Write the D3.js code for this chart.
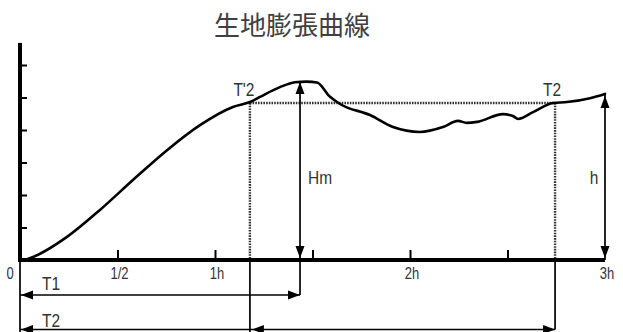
<!DOCTYPE html>
<html><head><meta charset="utf-8">
<script src="https://cdn.jsdelivr.net/npm/d3@7"></script>
<style>
html,body{margin:0;padding:0;background:#fff;}
svg{display:block;}
</style></head>
<body><svg id="c" width="623" height="332"></svg>
<script>
const title = "生地膨張曲線";
// curve: time (hours) vs expansion height (units of left ticks)
const curveHours  = [0.026,0.067,0.241,0.410,0.579,0.754,0.923,1.092,1.179,1.231,1.333,1.410,1.470,1.523,1.590,1.641,1.795,1.913,2.051,2.169,2.246,2.292,2.344,2.477,2.528,2.554,2.631,2.733,2.805,2.923,3.0];
const curveValues = [0.00, 0.09, 0.71, 1.54, 2.46, 3.38, 4.15, 4.71, 4.86, 5.02, 5.32, 5.47, 5.49, 5.46, 5.02, 4.80, 4.46, 4.09, 3.94, 4.09, 4.28, 4.22, 4.25, 4.49, 4.43, 4.34, 4.55, 4.83, 4.86, 4.98, 5.11];
const xTickValues = [0.5,1,1.5,2,2.5];
const xLabelValues = [0,0.5,1,2,3];
const xLabelTexts = ["0","1/2","1h","2h","3h"];
const yTickValues = [1,2,3,4,5,6];
// key points
const tPrime2 = {hour:1.179, value:4.83, label:"T'2"};
const peak = {hour:1.436, value:5.48, label:"Hm"};
const t2 = {hour:2.744, value:4.83, label:"T2"};
const endPt = {hour:3.0, value:5.11, label:"h"};

const svg = d3.select("#c");
const x = d3.scaleLinear().domain([0,3]).range([20,605]);
const y = d3.scaleLinear().domain([0,6]).range([260,65]);
const yTop = 6.68;
const bottomY = 332;
const t1Y = 295, t2Y = 329.5;
const ink = "#000", txt = "#333";
const lab = "'Liberation Sans', Arial, sans-serif";

// title
svg.append("text").attr("x",292).attr("y",35).attr("text-anchor","middle")
  .attr("font-family","'Noto Sans CJK JP','Noto Sans CJK SC',sans-serif")
  .attr("font-size",26).attr("font-weight",400).attr("fill","#404040").text(title);

// axes ticks via d3 axes
const gx = svg.append("g").attr("transform",`translate(0,${y(0)})`)
  .call(d3.axisBottom(x).tickValues(xTickValues).tickSizeInner(-10).tickSizeOuter(0).tickFormat(""));
gx.select(".domain").remove();
gx.selectAll(".tick line").attr("stroke",ink).attr("stroke-width",2);
const gy = svg.append("g").attr("transform",`translate(${x(0)},0)`)
  .call(d3.axisLeft(y).tickValues(yTickValues).tickSizeInner(-7).tickSizeOuter(0).tickFormat(""));
gy.select(".domain").remove();
gy.selectAll(".tick line").attr("stroke",ink).attr("stroke-width",2);

// thin extension of y axis below x axis
svg.append("line").attr("x1",x(0)).attr("x2",x(0)).attr("y1",y(0)).attr("y2",bottomY)
  .attr("stroke",ink).attr("stroke-width",1.7);

// dotted guides
const dot = {stroke:"#333","stroke-width":2.4,"stroke-dasharray":"1.6,1.1"};
function ln(x1,y1,x2,y2,attrs){const l=svg.append("line").attr("x1",x1).attr("y1",y1).attr("x2",x2).attr("y2",y2);for(const k in attrs)l.attr(k,attrs[k]);return l;}
ln(x(tPrime2.hour),y(tPrime2.value),x(t2.hour),y(t2.value),dot);
ln(x(tPrime2.hour),y(tPrime2.value),x(tPrime2.hour),y(0),dot);
ln(x(t2.hour),y(t2.value),x(t2.hour),y(0),dot);
// solid verticals below axis
const solid = {stroke:ink,"stroke-width":1.7};
ln(x(tPrime2.hour),y(0),x(tPrime2.hour),bottomY,solid);
ln(x(t2.hour),y(0),x(t2.hour),t2Y,solid);
ln(x(peak.hour),y(peak.value),x(peak.hour),t1Y,solid);
ln(x(endPt.hour),y(endPt.value),x(endPt.hour),y(0),solid);

// arrowheads
function head(px,py,dir){ // dir: up, down, left, right
  const L=12,W=4.5;let p;
  if(dir==="up") p=[[px,py],[px-W,py+L],[px+W,py+L]];
  if(dir==="down") p=[[px,py],[px-W,py-L],[px+W,py-L]];
  if(dir==="left") p=[[px,py],[px+L,py-W],[px+L,py+W]];
  if(dir==="right") p=[[px,py],[px-L,py-W],[px-L,py+W]];
  svg.append("path").attr("d","M"+p.map(d=>d.join(",")).join("L")+"Z").attr("fill",ink);
}
head(x(peak.hour),y(peak.value),"up");
head(x(peak.hour),y(0)-2,"down");
head(x(endPt.hour),y(endPt.value)+2,"up");
head(x(endPt.hour),y(0)-2,"down");

// T1 arrow
ln(x(0),t1Y,x(peak.hour),t1Y,solid);
head(x(0)+1,t1Y,"left");
head(x(peak.hour),t1Y,"right");
// T2 arrow
ln(x(0),t2Y,x(t2.hour),t2Y,solid);
head(x(0)+1,t2Y,"left");
head(x(tPrime2.hour)+2,t2Y,"left");
head(x(t2.hour),t2Y,"right");

// main axes (thick)
ln(x(0),y(0),x(3),y(0),{stroke:ink,"stroke-width":4});
ln(x(0),y(yTop),x(0),y(0)+2,{stroke:ink,"stroke-width":4});

// curve
const line = d3.line().x((d,i)=>x(curveHours[i])).y((d,i)=>y(curveValues[i])).curve(d3.curveMonotoneX);
svg.append("path").datum(curveHours).attr("d",line).attr("fill","none")
  .attr("stroke",ink).attr("stroke-width",2.6).attr("stroke-linejoin","round").attr("stroke-linecap","round");

// labels
function label(px,py,t,size,anchor){
  svg.append("text").attr("transform",`translate(${px},${py}) scale(1,1.2)`)
    .attr("text-anchor",anchor||"middle").attr("font-family",lab).attr("font-size",size)
    .attr("fill",txt).text(t);
}
xLabelTexts.forEach((t,i)=>{
  const v=xLabelValues[i];
  const px = v===0 ? x(0)-10 : x(v)+2;
  label(px,279,t,13);
});
label(x(tPrime2.hour)-6,96,tPrime2.label,15.5);
label(x(t2.hour)-3,96,t2.label,15.5);
label(x(peak.hour)+8,184,peak.label,15.5,"start");
label(x(endPt.hour)-11,184,endPt.label,15.5);
label(x(0)+22,290,"T1",15.5,"start");
label(x(0)+22,327,"T2",15.5,"start");
</script></body></html>
